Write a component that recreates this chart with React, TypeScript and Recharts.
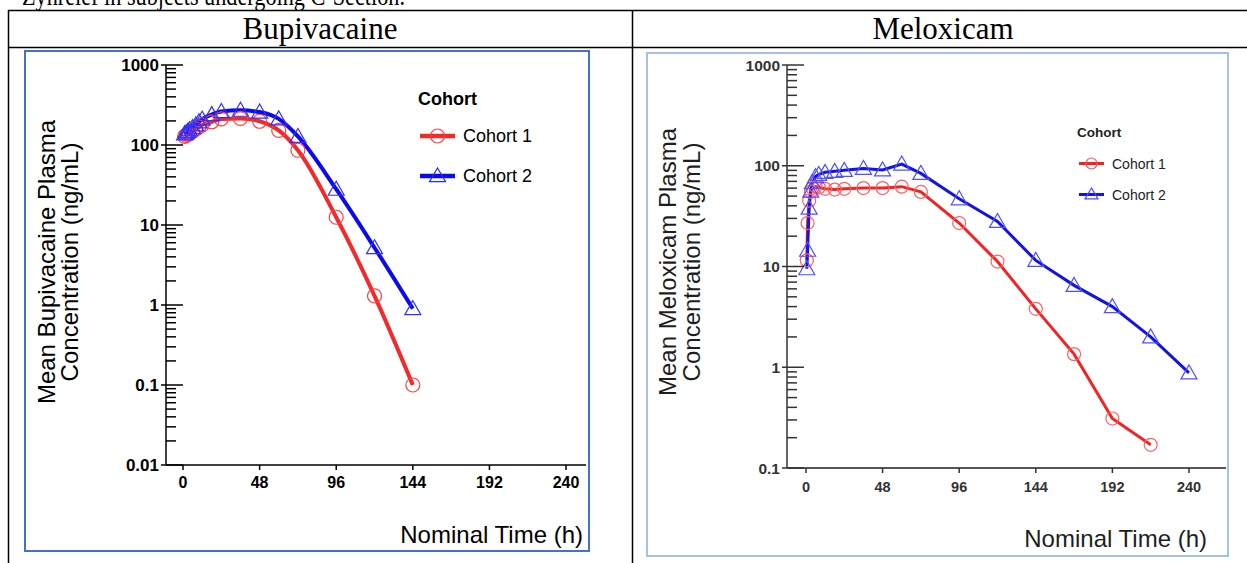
import React from "react";
import { LineChart, Line, XAxis, YAxis, Legend } from "recharts";

// Bupivacaine, mean plasma concentration (ng/mL) by nominal time (h)
const bupiTimes = [1, 2, 3, 4, 6, 8, 10, 12, 18, 24, 36, 48, 60, 72, 96, 120, 144];
const bupiCohort1 = [128, 132, 136, 140, 148, 158, 168, 178, 195, 212, 215, 198, 152, 86, 12.5, 1.3, 0.1];
const bupiCohort2 = [138, 142, 148, 155, 165, 178, 195, 210, 240, 262, 272, 258, 212, 128, 28, 5.2, 0.9];

// Meloxicam
const meloTimes = [0.5, 1, 2, 3, 4, 6, 8, 12, 18, 24, 36, 48, 60, 72, 96, 120, 144, 168, 192, 216, 240];
const meloCohort1 = [11.5, 27, 45, 55, 60, 62, 61, 59, 58, 59, 60, 60, 62, 55, 27, 11.2, 3.8, 1.35, 0.31, 0.17, null];
const meloCohort2 = [9.5, 14.5, 38, 56, 68, 78, 82, 86, 88, 90, 94, 91, 104, 84, 47, 28, 11.5, 6.5, 4.0, 2.0, 0.88];

const timeTicks = [0, 48, 96, 144, 192, 240];
const bupiDecades = [0.01, 0.1, 1, 10, 100, 1000];
const meloDecades = [0.1, 1, 10, 100, 1000];
const minorSteps = [2, 3, 4, 5, 6, 7, 8, 9];
const cohortNames = ["Cohort 1", "Cohort 2"];

const withMinors = (decades: number[]) => [
  ...decades,
  ...decades.slice(0, -1).flatMap((d) => minorSteps.map((m) => Number((d * m).toPrecision(2)))),
];

const bupiRows = bupiTimes.map((t, i) => ({ t, c1: bupiCohort1[i], c2: bupiCohort2[i] }));
const meloRows = meloTimes.map((t, i) => ({ t, c1: meloCohort1[i], c2: meloCohort2[i] }));

const SANS = "'Liberation Sans', Arial, sans-serif";
const SERIF = "'Liberation Serif', 'Times New Roman', serif";

const makeYTick = (decades: number[], fontSize: number, color: string) => (props: any) => {
  const { x, y, payload } = props;
  const major = decades.includes(payload.value);
  return (
    <g>
      <line x1={major ? x - 5 : x} x2={major ? x + 17 : x + 10} y1={y} y2={y} stroke={color} strokeWidth={1.5} />
      {major && (
        <text x={x - 7} y={y} dy={fontSize * 0.36} textAnchor="end" fontSize={fontSize} fontWeight="bold" fill={color} fontFamily={SANS}>
          {String(payload.value)}
        </text>
      )}
    </g>
  );
};

const makeXTick = (fontSize: number, color: string, dy: number) => (props: any) => {
  const { x, y, payload } = props;
  return (
    <g>
      <line x1={x} x2={x} y1={y} y2={y + 5} stroke={color} strokeWidth={1.5} />
      <text x={x} y={y + dy} textAnchor="middle" fontSize={fontSize} fontWeight="bold" fill={color} fontFamily={SANS}>
        {payload.value}
      </text>
    </g>
  );
};

const makeCircle = (r: number, color: string) => (props: any) => {
  const { cx, cy, index } = props;
  if (cy == null || cx == null) return <g key={`c-${index}`} />;
  return <circle key={`c-${index}`} cx={cx} cy={cy} r={r} fill="none" stroke={color} strokeWidth={1.2} />;
};

const makeTriangle = (s: number, color: string) => (props: any) => {
  const { cx, cy, index } = props;
  if (cy == null || cx == null) return <g key={`t-${index}`} />;
  const pts = `${cx},${cy - s} ${cx - s},${cy + s * 0.75} ${cx + s},${cy + s * 0.75}`;
  return <polygon key={`t-${index}`} points={pts} fill="none" stroke={color} strokeWidth={1.2} />;
};

type LegendOpts = {
  titleSize: number;
  textSize: number;
  lineW: number;
  lineLen: number;
  gap: number;
  rowGap: number;
  r: number;
  colors: string[];
  markColors: string[];
  textColor: string;
};

const makeLegend = (o: LegendOpts) => () => (
  <svg width={170} height={110} style={{ overflow: "visible" }}>
    <text x={2} y={o.titleSize + 2} fontSize={o.titleSize} fontWeight="bold" fill={o.textColor} fontFamily={SANS}>
      Cohort
    </text>
    {cohortNames.map((name, i) => {
      const cy = o.titleSize + 2 + o.gap + i * o.rowGap;
      const cx = 4 + o.lineLen / 2;
      return (
        <g key={name}>
          <line x1={4} x2={4 + o.lineLen} y1={cy} y2={cy} stroke={o.colors[i]} strokeWidth={o.lineW} />
          {i === 0 ? (
            <circle cx={cx} cy={cy} r={o.r} fill="none" stroke={o.markColors[i]} strokeWidth={1.2} />
          ) : (
            <polygon
              points={`${cx},${cy - o.r - 1} ${cx - o.r - 1},${cy + o.r * 0.8} ${cx + o.r + 1},${cy + o.r * 0.8}`}
              fill="none"
              stroke={o.markColors[i]}
              strokeWidth={1.2}
            />
          )}
          <text x={o.lineLen + 12} y={cy} dy={o.textSize * 0.36} fontSize={o.textSize} fill={o.textColor} fontFamily={SANS}>
            {name}
          </text>
        </g>
      );
    })}
  </svg>
);

const App = () => {
  return (
    <div style={{ position: "absolute", left: 0, top: 0, width: 1247, height: 563, background: "#fff", overflow: "hidden" }}>
      {/* Bupivacaine panel */}
      <div
        style={{
          position: "absolute",
          left: 24,
          top: 50,
          width: 566,
          height: 502,
          border: "2px solid #4472C4",
          boxSizing: "border-box",
        }}
      >
        <LineChart width={562} height={498} data={bupiRows} margin={{ top: 13, right: 2, bottom: 45, left: 80 }}>
          <XAxis
            dataKey="t"
            type="number"
            domain={[-10.65, 252.5]}
            ticks={timeTicks}
            allowDataOverflow
            height={40}
            tickSize={0}
            tickMargin={0}
            tick={makeXTick(16, "#000", 23)}
            axisLine={{ stroke: "#000", strokeWidth: 1.5 }}
          />
          <YAxis
            scale="log"
            type="number"
            domain={[0.01, 1000]}
            ticks={withMinors(bupiDecades)}
            allowDataOverflow
            width={60}
            tickSize={0}
            tickMargin={0}
            interval={0}
            tick={makeYTick(bupiDecades, 17, "#000")}
            axisLine={{ stroke: "#000", strokeWidth: 1.5 }}
          />
          <Legend
            layout="horizontal"
            verticalAlign="middle"
            align="center"
            wrapperStyle={{ left: 390, top: 33, width: 170, height: 110 }}
            content={makeLegend({
              titleSize: 18,
              textSize: 18,
              lineW: 4.5,
              lineLen: 35,
              gap: 31,
              rowGap: 40,
              r: 7,
              colors: ["#f22a2a", "#0a0af0"],
              markColors: ["#ff3c3c", "#2a2aff"],
              textColor: "#000",
            })}
          />
          <Line
            dataKey="c1"
            name="Cohort 1"
            type="monotone"
            stroke="#f22a2a"
            strokeWidth={4}
            dot={makeCircle(7, "#ff4040")}
            isAnimationActive={false}
          />
          <Line
            dataKey="c2"
            name="Cohort 2"
            type="monotone"
            stroke="#0a0af0"
            strokeWidth={4}
            dot={makeTriangle(8, "#3030ff")}
            isAnimationActive={false}
          />
        </LineChart>
      </div>

      {/* Meloxicam panel */}
      <div
        style={{
          position: "absolute",
          left: 646,
          top: 52,
          width: 583,
          height: 505,
          border: "2px solid #a7c0e4",
          boxSizing: "border-box",
        }}
      >
        <LineChart width={579} height={501} data={meloRows} margin={{ top: 11, right: 1, bottom: 47, left: 79 }}>
          <XAxis
            dataKey="t"
            type="number"
            domain={[-11.9, 263.2]}
            ticks={timeTicks}
            allowDataOverflow
            height={40}
            tickSize={0}
            tickMargin={0}
            tick={makeXTick(14.5, "#333", 24)}
            axisLine={{ stroke: "#555", strokeWidth: 1.8 }}
          />
          <YAxis
            scale="log"
            type="number"
            domain={[0.1, 1000]}
            ticks={withMinors(meloDecades)}
            allowDataOverflow
            width={60}
            tickSize={0}
            tickMargin={0}
            interval={0}
            tick={makeYTick(meloDecades, 15.5, "#333")}
            axisLine={{ stroke: "#555", strokeWidth: 1.8 }}
          />
          <Legend
            layout="horizontal"
            verticalAlign="middle"
            align="center"
            wrapperStyle={{ left: 427, top: 67, width: 170, height: 110 }}
            content={makeLegend({
              titleSize: 13.5,
              textSize: 14,
              lineW: 3,
              lineLen: 25,
              gap: 27,
              rowGap: 31,
              r: 5.5,
              colors: ["#f02424", "#1414e0"],
              markColors: ["#ff5050", "#4a4aff"],
              textColor: "#222",
            })}
          />
          <Line
            dataKey="c1"
            name="Cohort 1"
            type="linear"
            stroke="#f02424"
            strokeWidth={3}
            dot={makeCircle(6.5, "#ff6060")}
            isAnimationActive={false}
          />
          <Line
            dataKey="c2"
            name="Cohort 2"
            type="linear"
            stroke="#1414e0"
            strokeWidth={3}
            dot={makeTriangle(8, "#5050ff")}
            isAnimationActive={false}
          />
        </LineChart>
      </div>

      {/* document table, caption, axis titles */}
      <svg width={1247} height={563} style={{ position: "absolute", left: 0, top: 0, pointerEvents: "none" }}>
        <text x={22} y={5} fontSize={27} fontFamily={SERIF} fill="#000" textLength={383} lengthAdjust="spacingAndGlyphs">
          Zynrelef in subjects undergoing C-Section.
        </text>
        <line x1={8} x2={1247} y1={10.5} y2={10.5} stroke="#000" strokeWidth={1.5} />
        <line x1={8} x2={1247} y1={47.5} y2={47.5} stroke="#000" strokeWidth={1.5} />
        <line x1={8.5} x2={8.5} y1={10} y2={563} stroke="#000" strokeWidth={1.5} />
        <line x1={632.5} x2={632.5} y1={10} y2={563} stroke="#000" strokeWidth={1.5} />
        <text x={320} y={39} textAnchor="middle" fontSize={31} fontFamily={SERIF} fill="#000">
          Bupivacaine
        </text>
        <text x={943} y={39} textAnchor="middle" fontSize={31} fontFamily={SERIF} fill="#000">
          Meloxicam
        </text>

        <g fontFamily={SANS} fontSize={24} fill="#000" textAnchor="middle">
          <text transform="translate(55,262) rotate(-90)">Mean Bupivacaine Plasma</text>
          <text transform="translate(78,262) rotate(-90)">Concentration (ng/mL)</text>
          <text x={583} y={543} textAnchor="end">
            Nominal Time (h)
          </text>
        </g>
        <g fontFamily={SANS} fontSize={24} fill="#1e1e1e" textAnchor="middle">
          <text transform="translate(676,262) rotate(-90)">Mean Meloxicam Plasma</text>
          <text transform="translate(700,262) rotate(-90)">Concentration (ng/mL)</text>
          <text x={1207} y={547} textAnchor="end">
            Nominal Time (h)
          </text>
        </g>
      </svg>
    </div>
  );
};

export default App;
